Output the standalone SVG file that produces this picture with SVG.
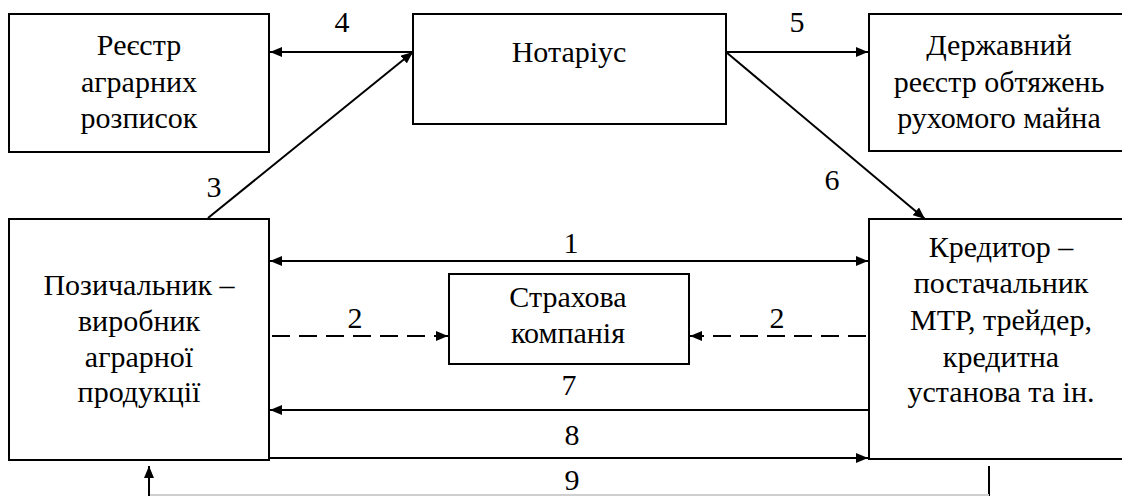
<svg xmlns="http://www.w3.org/2000/svg" width="1122" height="496" viewBox="0 0 1122 496">
<style>
.box{fill:#fff;stroke:#000;stroke-width:2}
.t{font-family:'Liberation Serif','Tinos','Times New Roman','DejaVu Serif',serif;font-size:30px;fill:#000;text-anchor:middle}
.c{stroke:#000;stroke-width:2;fill:none}
.d{stroke-dasharray:18 9}
</style>
<defs>
<marker id="ah" viewBox="0 0 12 10" refX="12" refY="5" markerWidth="12" markerHeight="10" markerUnits="userSpaceOnUse" orient="auto-start-reverse">
<path d="M0,0 L12,5 L0,10 Z" fill="#000"/>
</marker>
</defs>
<rect width="1122" height="496" fill="#fff"/>
<g id="connectors">
<line class="c" x1="413" y1="52" x2="270" y2="52" marker-end="url(#ah)"/>
<line class="c" x1="208" y1="218" x2="413" y2="52" marker-end="url(#ah)"/>
<line class="c" x1="726" y1="52" x2="868" y2="52" marker-end="url(#ah)"/>
<line class="c" x1="726" y1="52" x2="925" y2="219" marker-end="url(#ah)"/>
<line class="c" x1="270" y1="261" x2="868" y2="261" marker-start="url(#ah)" marker-end="url(#ah)"/>
<line class="c d" x1="272" y1="336" x2="448" y2="336" marker-end="url(#ah)"/>
<line class="c d" x1="866" y1="336" x2="690" y2="336" marker-end="url(#ah)"/>
<line class="c" x1="869" y1="410" x2="270" y2="410" marker-end="url(#ah)"/>
<line class="c" x1="269" y1="458" x2="868" y2="458" marker-end="url(#ah)"/>
<line class="c" x1="989" y1="466" x2="989" y2="496"/>
<line x1="149" y1="495" x2="989" y2="495" stroke="#cfcfcf" stroke-width="2"/>
<line class="c" x1="149" y1="496" x2="149" y2="466" marker-end="url(#ah)"/>
<text class="t" x="342" y="32">4</text>
<text class="t" x="797" y="32">5</text>
<text class="t" x="214" y="197">3</text>
<text class="t" x="832" y="190">6</text>
<text class="t" x="571" y="253">1</text>
<text class="t" x="355" y="328">2</text>
<text class="t" x="777" y="328">2</text>
<text class="t" x="569" y="395">7</text>
<text class="t" x="572" y="445">8</text>
<text class="t" x="572" y="490">9</text>
</g>
<g id="reestr">
<rect class="box" x="9" y="14" width="260" height="138"/>
<text class="t" x="139" y="55">Реєстр</text>
<text class="t" x="139" y="92">аграрних</text>
<text class="t" x="139" y="128">розписок</text>
</g>
<g id="notarius">
<rect class="box" x="413" y="14" width="313" height="110"/>
<text class="t" x="569" y="62">Нотаріус</text>
</g>
<g id="derzhreestr">
<rect class="box" x="869" y="14" width="262" height="137"/>
<text class="t" x="999" y="55">Державний</text>
<text class="t" x="999" y="92">реєстр обтяжень</text>
<text class="t" x="999" y="128">рухомого майна</text>
</g>
<g id="pozychalnyk">
<rect class="box" x="9" y="219" width="260" height="241"/>
<text class="t" x="139" y="295">Позичальник –</text>
<text class="t" x="139" y="331">виробник</text>
<text class="t" x="139" y="367">аграрної</text>
<text class="t" x="139" y="402">продукції</text>
</g>
<g id="strakhova">
<rect class="box" x="449" y="274" width="240" height="90"/>
<text class="t" x="568" y="307">Страхова</text>
<text class="t" x="568" y="343">компанія</text>
</g>
<g id="kredytor">
<rect class="box" x="869" y="219" width="262" height="240"/>
<text class="t" x="1001" y="257">Кредитор –</text>
<text class="t" x="1001" y="293">постачальник</text>
<text class="t" x="1001" y="330">МТР, трейдер,</text>
<text class="t" x="1001" y="367">кредитна</text>
<text class="t" x="1001" y="402">установа та ін.</text>
</g>
</svg>
